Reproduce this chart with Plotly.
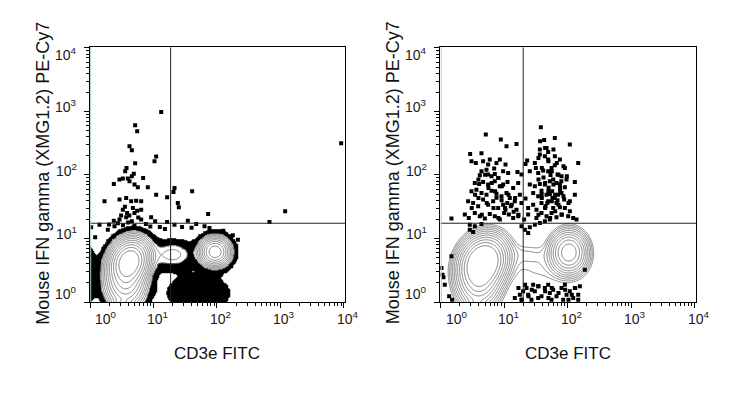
import numpy as np
import plotly.graph_objects as go

W, H = 746, 395

# ---------------- text / ticks ----------------
tick_exponents = [0, 1, 2, 3, 4]
tick_labels = ["10<sup>0</sup>", "10<sup>1</sup>", "10<sup>2</sup>", "10<sup>3</sup>", "10<sup>4</sup>"]
x_title = "CD3e FITC"
y_title = "Mouse IFN gamma (XMG1.2) PE-Cy7"

# quadrant gates (log10 fluorescence), panel 1 / panel 2
gate_cd3e_log = [1.27, 1.30]
gate_ifng_log = [1.24, 1.24]

# ---------------- panel 1 populations (log10 space) ----------------
p1_cd3e_mean = [0.62, 0.56, 1.97, 1.30, 0.50]
p1_ifng_mean = [0.64, 0.30, 0.79, 0.745, -0.05]
p1_cd3e_sd = [0.15, 0.16, 0.12, 0.22, 0.09]
p1_ifng_sd = [0.17, 0.20, 0.115, 0.14, 0.06]
p1_weight = [1.0, 0.30, 0.42, 0.030, 0.10]
p1_rho = [0.15, 0.0, 0.0, 0.0, 0.0]

# panel 1 sparse populations shown only as solid dot clouds
p1_low_cd3e_mean = [1.71, 0.0]
p1_low_ifng_mean = [0.14, 0.45]
p1_low_cd3e_sd = [0.34, 0.07]
p1_low_ifng_sd = [0.19, 0.38]
p1_low_weight = [0.019, 0.012]

# ---------------- panel 2 populations (log10 space) ----------------
p2_cd3e_mean = [0.67, 0.60, 2.02, 1.35, 0.55, 1.60]
p2_ifng_mean = [0.63, 0.30, 0.78, 0.76, -0.05, 0.55]
p2_cd3e_sd = [0.18, 0.17, 0.145, 0.22, 0.09, 0.40]
p2_ifng_sd = [0.20, 0.21, 0.17, 0.11, 0.06, 0.22]
p2_weight = [1.0, 0.30, 0.42, 0.012, 0.08, 0.014]
p2_rho = [0.15, 0.0, 0.0, 0.0, 0.0, 0.0]

# ---------------- individual events (log10 CD3e, log10 IFNg) ----------------
p1_events = [
    (1.121, 2.993), (0.711, 2.783), (0.743, 2.688), (3.956, 2.499), (0.622, 2.452), (0.659, 2.389),
    (1.042, 2.289), (1.016, 2.216), (0.711, 2.184), (0.575, 2.111), (0.554, 2.058), (0.690, 2.021),
    (0.659, 1.979), (0.517, 1.943), (0.596, 1.943), (0.622, 1.901), (0.837, 1.953), (0.375, 1.859),
    (0.465, 1.927), (0.701, 1.848), (0.753, 1.806), (0.911, 1.806), (0.228, 1.586), (1.331, 1.796),
    (1.315, 1.733), (1.609, 1.743), (1.042, 1.690), (1.215, 1.649), (1.383, 1.559), (1.399, 1.491),
    (1.861, 1.386), (2.827, 1.260), (3.074, 1.428), (0.465, 1.612), (0.570, 1.638), (0.648, 1.586),
    (0.727, 1.596), (0.806, 1.586), (0.675, 1.481), (0.517, 1.454), (0.585, 1.402), (0.743, 1.438),
    (0.806, 1.454), (0.465, 1.297), (0.570, 1.333), (0.659, 1.271), (0.375, 1.281), (0.806, 1.297),
    (0.963, 1.333), (1.026, 1.271), (1.215, 1.260), (1.331, 1.218), (1.541, 1.281), (1.673, 1.229),
    (1.804, 1.192), (1.882, 1.166), (0.018, 1.176), (0.081, 1.019), (0.281, 1.139), (0.385, 1.192),
    (0.150, 1.218), (0.620, 1.360), (0.700, 1.400), (0.550, 1.500), (0.490, 1.360), (0.760, 1.330),
    (0.600, 1.250), (0.520, 1.210), (0.700, 1.200), (0.880, 1.230), (0.950, 1.190), (0.300, 1.220),
    (0.440, 1.240), (1.100, 1.180), (1.180, 1.150), (1.450, 1.180), (1.600, 1.170), (2.100, 1.120),
    (2.250, 1.050), (2.330, 0.980),
]

p2_events = [
    (1.578, 2.751), (0.711, 2.636), (1.798, 2.583), (1.630, 2.552), (0.948, 2.557), (1.194, 2.489),
    (2.034, 2.478), (1.037, 2.452), (0.465, 2.331), (0.643, 2.342), (1.562, 2.399), (1.667, 2.426),
    (1.693, 2.363), (1.562, 2.321), (1.641, 2.294), (1.798, 2.294), (1.877, 2.242), (1.693, 2.242),
    (0.486, 2.216), (0.554, 2.189), (0.669, 2.216), (0.748, 2.163), (0.774, 2.242), (0.879, 2.189),
    (0.932, 2.242), (1.021, 2.163), (0.843, 2.100), (1.362, 2.226), (1.336, 2.174), (1.483, 2.189),
    (1.499, 2.111), (2.166, 2.189), (0.643, 2.058), (0.722, 2.084), (0.617, 1.995), (0.748, 2.006),
    (0.801, 1.979), (0.853, 2.016), (0.906, 1.953), (0.984, 2.058), (1.063, 2.032), (1.210, 2.048),
    (1.273, 2.006), (1.404, 2.058), (1.536, 2.032), (1.614, 2.069), (1.693, 2.058), (1.746, 2.111),
    (1.798, 2.153), (1.840, 2.006), (1.903, 1.979), (1.956, 2.111), (2.113, 1.890), (0.538, 1.874),
    (0.606, 1.859), (0.669, 1.890), (0.748, 1.848), (0.853, 1.901), (0.932, 1.822), (0.984, 1.848),
    (1.053, 1.890), (1.142, 1.796), (1.221, 1.874), (1.404, 1.848), (1.483, 1.822), (1.562, 1.859),
    (1.641, 1.848), (1.719, 1.901), (1.772, 1.927), (1.824, 1.874), (1.877, 1.848), (1.956, 1.806),
    (1.982, 1.927), (0.486, 1.743), (0.564, 1.769), (0.643, 1.717), (0.722, 1.690), (0.801, 1.753),
    (0.879, 1.706), (0.958, 1.664), (1.037, 1.717), (1.089, 1.638), (1.168, 1.586), (1.247, 1.690),
    (1.336, 1.628), (1.457, 1.717), (1.536, 1.664), (1.588, 1.753), (1.667, 1.690), (1.719, 1.701),
    (1.756, 1.743), (1.798, 1.638), (1.850, 1.690), (1.903, 1.717), (1.945, 1.612), (2.034, 1.586),
    (2.113, 1.690), (0.433, 1.586), (0.512, 1.559), (0.591, 1.507), (0.669, 1.612), (0.748, 1.533),
    (0.827, 1.586), (0.906, 1.481), (0.984, 1.533), (1.021, 1.454), (1.105, 1.507), (1.194, 1.454),
    (1.273, 1.559), (1.378, 1.481), (1.457, 1.533), (1.509, 1.454), (1.588, 1.559), (1.651, 1.507),
    (1.693, 1.586), (1.772, 1.481), (1.824, 1.559), (1.877, 1.491), (1.956, 1.481), (2.034, 1.428),
    (0.381, 1.376), (0.444, 1.323), (0.538, 1.402), (0.617, 1.349), (0.696, 1.313), (0.774, 1.386),
    (0.853, 1.349), (0.932, 1.297), (1.074, 1.376), (1.142, 1.323), (1.221, 1.349), (1.315, 1.297),
    (1.378, 1.376), (1.509, 1.323), (1.588, 1.402), (1.667, 1.349), (1.746, 1.402), (1.824, 1.334),
    (1.903, 1.376), (2.008, 1.349), (2.087, 1.323), (2.139, 1.297), (0.171, 1.313), (0.459, 1.218),
    (0.538, 1.192), (0.643, 1.229), (1.273, 1.192), (1.326, 1.139), (1.378, 1.087), (1.404, 1.176),
    (1.483, 1.218), (1.562, 1.244), (1.641, 1.271), (1.719, 1.297), (0.459, 1.139), (0.512, 1.103),
    # denser IFNg+ CD3e+ cloud
    (1.566, 2.530), (1.645, 2.425), (1.776, 2.399), (1.540, 2.268), (1.697, 2.215), (1.829, 2.189),
    (1.934, 2.136), (1.593, 2.110), (1.750, 2.058), (1.855, 2.005), (1.987, 1.979), (1.540, 1.927),
    (1.645, 1.874), (1.776, 1.848), (1.881, 1.795), (1.697, 1.743), (1.803, 1.690), (1.934, 1.664),
    (1.593, 1.638), (1.750, 1.585), (1.855, 1.533), (2.013, 1.559), (1.645, 1.480), (1.803, 1.428),
    (1.908, 1.375), (1.540, 1.375), (1.724, 1.323), (1.620, 1.960), (1.700, 1.800), (1.760, 1.640),
    (1.880, 1.740), (1.590, 1.700), (1.680, 1.560), (1.840, 1.600), (1.730, 2.000), (1.900, 1.900),
    # denser IFNg+ CD3e- cloud
    (0.595, 1.927), (0.700, 2.005), (0.805, 1.874), (0.910, 1.953), (0.753, 1.795), (0.858, 1.743),
    (0.963, 1.822), (1.068, 1.690), (1.173, 1.638), (0.595, 1.638), (0.726, 1.559), (0.832, 1.480),
    (1.015, 1.480), (1.120, 1.533), (1.225, 1.375), (0.490, 1.480), (0.648, 1.375), (0.910, 1.323),
    (0.543, 1.690), (0.960, 1.600), (1.050, 1.560), (1.150, 1.420), (0.880, 1.640), (1.000, 1.400),
    # CD3e+ IFNg- low events
    (1.168, 0.063), (1.247, 0.116), (1.299, 0.168), (1.352, 0.221), (1.378, 0.116), (1.457, 0.273),
    (1.483, 0.168), (1.536, 0.247), (1.588, 0.089), (1.641, 0.221), (1.693, 0.273), (1.719, 0.142),
    (1.772, 0.194), (1.824, 0.089), (1.903, 0.221), (1.956, 0.273), (1.982, 0.116), (2.034, 0.168),
    (2.087, 0.063), (2.113, 0.221), (2.166, 0.116), (2.192, 0.247), (1.273, 0.037), (1.430, 0.037),
    (1.536, 0.063), (1.746, 0.037), (1.929, 0.037), (2.166, 0.037), (2.270, 0.509), (1.225, 0.220),
    (1.330, 0.273), (1.435, 0.194), (1.540, 0.247), (1.645, 0.168), (1.750, 0.220), (1.855, 0.142),
    (1.960, 0.194), (2.065, 0.115), (1.383, 0.089), (1.697, 0.063), (2.013, 0.037), (1.278, 0.037),
    (2.118, 0.220),
    # left-edge events
    (0.013, 0.536), (0.029, 0.430), (0.045, 0.389), (0.066, 0.273), (0.134, 0.089), (0.181, 0.037),
    (0.171, 0.719),
]

# ---------------- helpers ----------------
X_RANGE = [-0.005, 4.02]
Y_RANGE = [0.0, 4.01]
u = np.linspace(-0.1, 4.1, 320)
v = np.linspace(-0.2, 4.1, 330)
U, V = np.meshgrid(u, v)


def density(mx, my, sx, sy, w, rho=None, blur=0.0):
    tot = np.zeros_like(U)
    for i in range(len(mx)):
        a = np.hypot(sx[i], blur)
        b = np.hypot(sy[i], blur)
        r = rho[i] if rho is not None else 0.0
        du = (U - mx[i]) / a
        dv = (V - my[i]) / b
        q = (du * du - 2 * r * du * dv + dv * dv) / (1 - r * r)
        tot += w[i] * np.exp(-0.5 * q)
    return tot


fig = go.Figure()
LINE_GRAY = "#767676"
xs = 10 ** u
ys = 10 ** v


def add_panel(xa, ya, dens, ring_start, ring_end, ring_step, black=None, black_level=-2.2, events=(), gi=0):
    if black is not None:
        mask = ((black > black_level) & (dens <= ring_start)).astype(float)
        fig.add_trace(go.Heatmap(x=xs, y=ys, z=mask, xaxis=xa, yaxis=ya, showscale=False,
                                 colorscale=[[0, "rgba(255,255,255,0)"], [0.5, "rgba(255,255,255,0)"],
                                             [0.5, "black"], [1, "black"]],
                                 zmin=0, zmax=1, hoverinfo="skip"))
    fig.add_trace(go.Contour(x=xs, y=ys, z=dens, xaxis=xa, yaxis=ya, showscale=False, autocontour=False,
                             contours=dict(start=ring_start, end=ring_end, size=ring_step, coloring="none"),
                             line=dict(color=LINE_GRAY, width=0.9), line_smoothing=0.8, hoverinfo="skip"))
    ex = [10 ** e[0] for e in events]
    ey = [10 ** e[1] for e in events]
    fig.add_trace(go.Scatter(x=ex, y=ey, mode="markers", xaxis=xa, yaxis=ya,
                             marker=dict(symbol="square", size=4, color="black", line=dict(width=0)),
                             hoverinfo="skip", showlegend=False))
    gx, gy = gate_cd3e_log[gi], gate_ifng_log[gi]
    fig.add_trace(go.Scatter(x=[10 ** gx, 10 ** gx], y=[10 ** Y_RANGE[0], 10 ** Y_RANGE[1]], mode="lines",
                             xaxis=xa, yaxis=ya, line=dict(color="#222222", width=1),
                             hoverinfo="skip", showlegend=False))
    fig.add_trace(go.Scatter(x=[10 ** X_RANGE[0], 10 ** X_RANGE[1]], y=[10 ** gy, 10 ** gy], mode="lines",
                             xaxis=xa, yaxis=ya, line=dict(color="#222222", width=1),
                             hoverinfo="skip", showlegend=False))


d1 = np.log10(density(p1_cd3e_mean, p1_ifng_mean, p1_cd3e_sd, p1_ifng_sd, p1_weight, p1_rho) + 1e-12)
b1 = np.log10(density(p1_cd3e_mean, p1_ifng_mean, p1_cd3e_sd, p1_ifng_sd, p1_weight, p1_rho, blur=0.045)
              + density(p1_low_cd3e_mean, p1_low_ifng_mean, p1_low_cd3e_sd, p1_low_ifng_sd, p1_low_weight)
              + 1e-12)
d2 = np.log10(density(p2_cd3e_mean, p2_ifng_mean, p2_cd3e_sd, p2_ifng_sd, p2_weight, p2_rho) + 1e-12)

add_panel("x", "y", d1, -1.75, -0.2, 0.155, black=b1, events=p1_events, gi=0)
add_panel("x2", "y2", d2, -1.9, -0.2, 0.155, events=p2_events, gi=1)

# ---------------- axes ----------------
minor_vals = [m * 10 ** d for d in range(0, 4) for m in range(2, 10)]
axis_common = dict(type="log", showgrid=False, zeroline=False, showline=True, linecolor="black",
                   linewidth=1, mirror=True, ticks="outside", ticklen=5, tickwidth=1, tickcolor="black",
                   tickmode="array", tickvals=[10 ** k for k in tick_exponents], showticklabels=False,
                   minor=dict(ticks="outside", ticklen=3, tickwidth=1, tickcolor="black",
                              tickmode="array", tickvals=minor_vals, showgrid=False))

px1 = [81.7 / W, 337.2 / W]
px2 = [432.3 / W, 688.0 / W]
py = [1 - 294.0 / H, 1 - 39.3 / H]

fig.update_layout(
    width=W, height=H, margin=dict(l=0, r=0, t=0, b=0),
    paper_bgcolor="white", plot_bgcolor="white", showlegend=False,
    xaxis=dict(axis_common, domain=px1, range=X_RANGE, anchor="y"),
    yaxis=dict(axis_common, domain=py, range=Y_RANGE, anchor="x"),
    xaxis2=dict(axis_common, domain=px2, range=X_RANGE, anchor="y2"),
    yaxis2=dict(axis_common, domain=py, range=Y_RANGE, anchor="x2"),
)

FONT = "Arial, Liberation Sans, sans-serif"
ann = []
for xa, ya, dom in (("x", "y", px1), ("x2", "y2", px2)):
    for k, lab in zip(tick_exponents, tick_labels):
        ann.append(dict(x=k, xref=xa, y=1 - 299.0 / H, yref="paper", text=lab, showarrow=False,
                        xanchor="center", yanchor="top", xshift=16 if k == 0 else 4,
                        font=dict(family=FONT, size=14, color="#1a1a1a")))
        ann.append(dict(x=dom[0], xref="paper", y=k, yref=ya, text=lab, showarrow=False,
                        xanchor="right", yanchor="middle", xshift=-11,
                        yshift=(-6 if k == 4 else (9 if k == 0 else 5)),
                        font=dict(family=FONT, size=14, color="#1a1a1a")))
    ann.append(dict(x=(dom[0] + dom[1]) / 2, xref="paper", y=1 - 345.0 / H, yref="paper", text=x_title,
                    showarrow=False, xanchor="center", yanchor="middle",
                    font=dict(family=FONT, size=17, color="#111111")))
    ann.append(dict(x=dom[0] - 47.0 / W, xref="paper", y=1 - 165.0 / H, yref="paper", text=y_title,
                    showarrow=False, textangle=-90, xanchor="center", yanchor="middle",
                    font=dict(family=FONT, size=18, color="#111111")))
fig.update_layout(annotations=ann)

shapes = []
for xa, ya in (("x", "y"), ("x2", "y2")):
    shapes.append(dict(type="line", xref=xa + " domain", yref=ya + " domain", x0=0.004, x1=0.004, y0=0, y1=1,
                       line=dict(color="#a6d2d2", width=1)))
fig.update_layout(shapes=shapes)

fig.write_html("out.html")
